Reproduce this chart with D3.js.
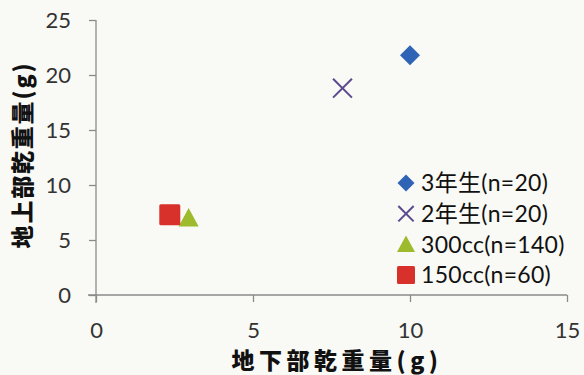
<!DOCTYPE html>
<html>
<head>
<meta charset="utf-8">
<script src="https://cdn.jsdelivr.net/npm/d3@7"></script>
<style>
  html, body { margin: 0; padding: 0; background: #f9f9f5; }
  svg { display: block; }
</style>
</head>
<body>
<svg id="chart" width="584" height="375"></svg>
<script>
// Series: mean dry weight of roots (x) vs shoots (y), grams
const seriesNames = ["3年生(n=20)", "2年生(n=20)", "300cc(n=140)", "150cc(n=60)"];
const rootWeight  = [10.0, 7.85, 2.95, 2.35];
const shootWeight = [21.8, 18.8, 7.0, 7.3];
const symbols     = ["diamond", "cross", "triangle", "square"];
const colors      = ["#2f63b6", "#5b4a8e", "#9dbb2c", "#d8302b"];
const xTicks = [0, 5, 10, 15];
const yTicks = [0, 5, 10, 15, 20, 25];
const xTitle = "地下部乾重量(g)";
const yTitle = "地上部乾重量(g)";

const svg = d3.select("#chart");
const margin = { left: 96, top: 20, right: 17, bottom: 80 };
const W = 584, H = 375;

const x = d3.scaleLinear().domain([0, 15]).range([margin.left, W - margin.right]);
const y = d3.scaleLinear().domain([0, 25]).range([H - margin.bottom, margin.top]);

const axisColor = "#8a8a8a";
const numFont = "Lato, 'Noto Sans CJK JP', sans-serif";
const titleFont = "'Noto Sans CJK JP', sans-serif";

// Axes
const gx = svg.append("g")
  .attr("transform", `translate(0,${y(0)})`)
  .call(d3.axisBottom(x).tickValues(xTicks).tickSize(7).tickPadding(20).tickSizeOuter(0));
const gy = svg.append("g")
  .attr("transform", `translate(${x(0)},0)`)
  .call(d3.axisLeft(y).tickValues(yTicks).tickSize(7).tickPadding(18).tickSizeOuter(0));

[gx, gy].forEach(g => {
  g.select(".domain").attr("stroke", axisColor).attr("stroke-width", 1.3);
  g.selectAll(".tick line").attr("stroke", axisColor).attr("stroke-width", 1.3);
  g.selectAll(".tick text")
    .attr("fill", "#333")
    .style("font-family", numFont)
    .style("font-size", "22px");
});
// x axis line runs a little past the y axis, and vice versa
gx.select(".domain").attr("d", `M${x(0) - 8},0H${x(15)}`);
gy.select(".domain").attr("d", `M0,${y(25)}V${y(0) + 8}`);

// Axis titles
svg.append("text")
  .attr("x", 337).attr("y", 369)
  .attr("text-anchor", "middle")
  .style("font-family", titleFont)
  .style("font-weight", "900")
  .style("font-size", "23px")
  .style("letter-spacing", "4.5px")
  .attr("fill", "#111")
  .text(xTitle);

svg.append("text")
  .attr("transform", `translate(31,${155}) rotate(-90)`)
  .attr("text-anchor", "middle")
  .style("font-family", titleFont)
  .style("font-weight", "900")
  .style("font-size", "23px")
  .style("letter-spacing", "1.8px")
  .attr("fill", "#111")
  .text(yTitle);

// Marker drawing
function drawMarker(g, sym, color, size) {
  if (sym === "diamond") {
    const s = size * 0.5;
    g.append("path").attr("d", `M0,${-s}L${s},0L0,${s}L${-s},0Z`).attr("fill", color);
  } else if (sym === "cross") {
    const s = size * 0.45;
    g.append("path").attr("d", `M${-s},${-s}L${s},${s}M${-s},${s}L${s},${-s}`)
      .attr("stroke", color).attr("stroke-width", 2).attr("fill", "none");
  } else if (sym === "triangle") {
    const s = size * 0.5;
    g.append("path").attr("d", `M0,${-s}L${s},${s * 0.85}L${-s},${s * 0.85}Z`).attr("fill", color);
  } else if (sym === "square") {
    const s = size * 0.5;
    g.append("rect").attr("x", -s).attr("y", -s).attr("width", 2 * s).attr("height", 2 * s)
      .attr("rx", 1.5).attr("fill", color);
  }
}

const plotSizes = [20, 21, 20, 21];
seriesNames.forEach((name, i) => {
  const g = svg.append("g").attr("transform", `translate(${x(rootWeight[i])},${y(shootWeight[i])})`);
  drawMarker(g, symbols[i], colors[i], plotSizes[i]);
});

// Legend
const legend = svg.append("g").attr("transform", "translate(406,183)");
const legendSizes = [17, 17, 18, 18];
seriesNames.forEach((name, i) => {
  const row = legend.append("g").attr("transform", `translate(0,${i * 30.7})`);
  drawMarker(row, symbols[i], colors[i], legendSizes[i]);
  row.append("text")
    .attr("x", 15).attr("y", 0).attr("dy", "0.36em")
    .style("font-family", numFont)
    .style("font-size", "23px")
    .style("letter-spacing", "0.3px")
    .attr("fill", "#111")
    .text(name);
});
</script>
</body>
</html>
